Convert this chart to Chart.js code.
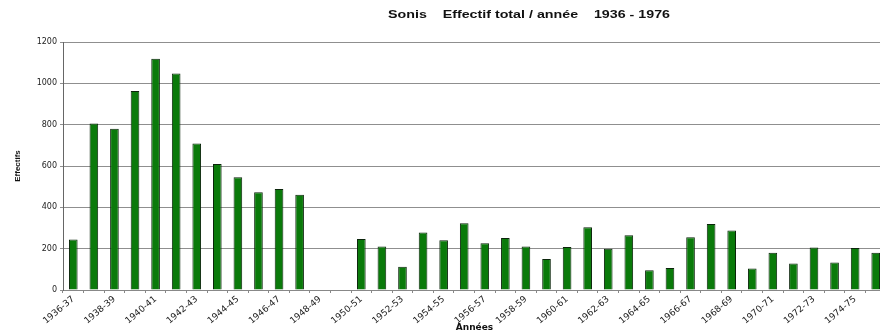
<!DOCTYPE html>
<html>
<head>
<meta charset="utf-8">
<script src="https://cdn.jsdelivr.net/npm/chart.js@4/dist/chart.umd.min.js"></script>
<style>
  html, body { margin: 0; padding: 0; background: #fff; overflow: hidden; }
  #wrap { width: 888px; height: 336px; }
</style>
</head>
<body>
<div id="wrap"><canvas id="chart" width="888" height="336"></canvas></div>
<script>
// Sonis — effectif total par année scolaire, 1936-1976

const years = [
  '1936-37', '1937-38', '1938-39', '1939-40', '1940-41', '1941-42', '1942-43', '1943-44',
  '1944-45', '1945-46', '1946-47', '1947-48', '1948-49', '1949-50', '1950-51', '1951-52',
  '1952-53', '1953-54', '1954-55', '1955-56', '1956-57', '1957-58', '1958-59', '1959-60',
  '1960-61', '1961-62', '1962-63', '1963-64', '1964-65', '1965-66', '1966-67', '1967-68',
  '1968-69', '1969-70', '1970-71', '1971-72', '1972-73', '1973-74', '1974-75', '1975-76'
];

// no data for 1948-49 and 1949-50
const effectifs = [
  244, 806, 780, 963, 1119, 1047, 709, 610,
  545, 473, 489, 461, null, null, 247, 211,
  112, 278, 241, 323, 226, 252, 210, 150,
  208, 304, 200, 265, 96, 107, 255, 319,
  288, 104, 180, 128, 206, 133, 203, 180
];

const yTicks = [0, 200, 400, 600, 800, 1000, 1200];

const titleText = 'Sonis    Effectif total / année    1936 - 1976';
const FONT = '"DejaVu Sans", "Liberation Sans", Arial, sans-serif';

// title sits off-centre and is a bit stretched in the original, so draw it by hand
const titlePlugin = {
  id: 'sonisTitle',
  afterDraw(chart) {
    const ctx = chart.ctx;
    ctx.save();
    ctx.font = 'bold 10px "Liberation Sans", Arial, sans-serif';
    ctx.fillStyle = '#111';
    ctx.textAlign = 'center';
    ctx.textBaseline = 'middle';
    const w = ctx.measureText(titleText).width;
    ctx.translate(529, 15);
    ctx.scale(282 / w, 1);
    ctx.fillText(titleText, 0, 0);
    ctx.restore();
  }
};

new Chart(document.getElementById('chart'), {
  type: 'bar',
  data: {
    labels: years,
    datasets: [{
      data: effectifs,
      backgroundColor: '#0a7a0a',
      borderColor: '#0b250b',
      borderWidth: 1,
      barPercentage: 0.42,
      categoryPercentage: 1
    }]
  },
  options: {
    responsive: false,
    animation: false,
    layout: { padding: { top: 42, right: 2, left: 0, bottom: 2 } },
    plugins: {
      legend: { display: false },
      tooltip: { enabled: false },
      title: { display: false }
    },
    scales: {
      x: {
        grid: {
          offset: true,
          drawOnChartArea: false,
          drawTicks: true,
          tickLength: 3,
          color: '#888'
        },
        border: { color: '#888' },
        ticks: {
          autoSkip: false,
          maxRotation: 40,
          minRotation: 40,
          padding: 1,
          color: '#222',
          font: { size: 9, family: FONT },
          callback: (v, i) => (i % 2 === 0 ? years[i] : '')
        },
        title: {
          display: true,
          text: 'Années',
          color: '#111',
          font: { size: 9, weight: 'bold', family: FONT },
          padding: { top: 0, bottom: 1 }
        },
        afterFit: (scale) => { scale.height = 44; }
      },
      y: {
        min: 0,
        max: 1200,
        afterBuildTicks: (scale) => { scale.ticks = yTicks.map(v => ({ value: v })); },
        grid: {
          color: '#8f8f8f',
          drawTicks: true,
          tickLength: 3
        },
        border: { color: '#666' },
        ticks: {
          padding: 3,
          color: '#222',
          font: { size: 8, family: FONT },
          callback: (v) => String(v)
        },
        title: {
          display: true,
          text: 'Effectifs',
          color: '#111',
          font: { size: 8, weight: 'bold', family: '"Liberation Sans", Arial, sans-serif' },
          padding: { top: 13, bottom: 0 }
        },
        afterFit: (scale) => { scale.width = 63; }
      }
    }
  },
  plugins: [titlePlugin]
});
</script>
</body>
</html>
